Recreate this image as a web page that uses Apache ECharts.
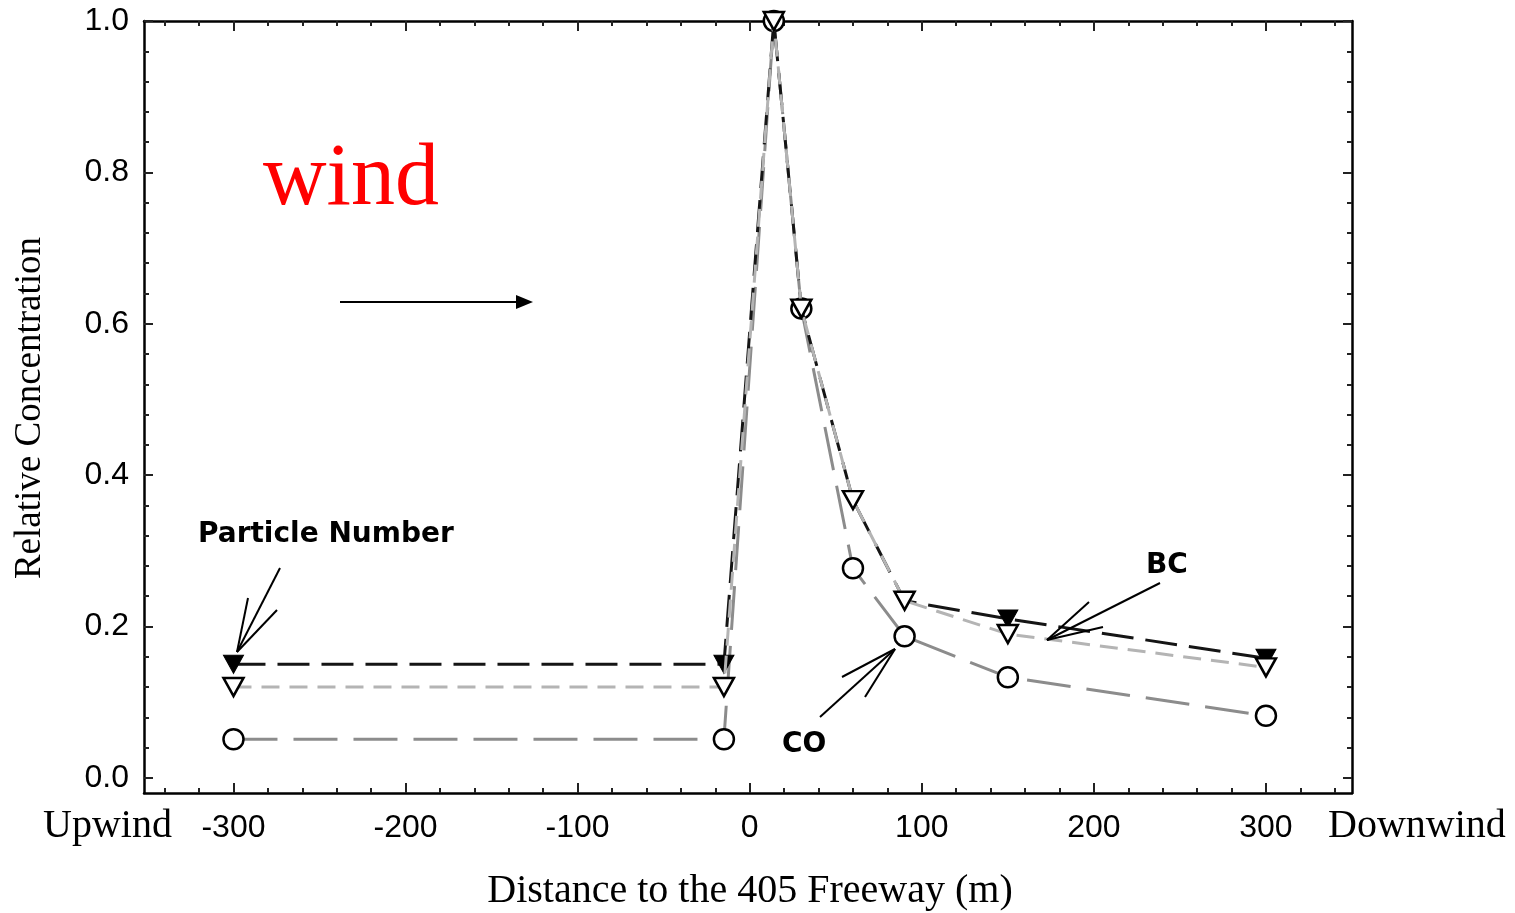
<!DOCTYPE html>
<html>
<head>
<meta charset="utf-8">
<script src="https://cdn.jsdelivr.net/npm/echarts@6/dist/echarts.min.js"></script>
<style>
html,body{margin:0;padding:0;background:#fff;}
#chart{width:1515px;height:913px;}
</style>
</head>
<body>
<div id="chart"></div>
<script>
// ---- data ----
const distances = [-300, -15, 14, 30, 60, 90, 150, 300];
const particleNumber = [0.150, 0.150, 1.0, 0.62, 0.367, 0.234, 0.210, 0.158];
const blackCarbon    = [0.120, 0.120, 1.0, 0.62, 0.367, 0.234, 0.190, 0.146];
const carbonMonoxide = [0.051, 0.051, 1.0, 0.62, 0.277, 0.187, 0.133, 0.082];
const xTickLabels = [-300, -200, -100, 0, 100, 200, 300];
const xMinorTicks = [-340,-320,-300,-280,-260,-240,-220,-200,-180,-160,-140,-120,-100,-80,-60,-40,-20,0,20,40,60,80,100,120,140,160,180,200,220,240,260,280,300,320,340];
const yTickLabels = [0.0, 0.2, 0.4, 0.6, 0.8, 1.0];
const yMinorTicks = [0,0.04,0.08,0.12,0.16,0.2,0.24,0.28,0.32,0.36,0.4,0.44,0.48,0.52,0.56,0.6,0.64,0.68,0.72,0.76,0.8,0.84,0.88,0.92,0.96,1.0];

const X_MIN = -352, X_MAX = 350, Y_MIN = -0.02, Y_MAX = 1.0;
const AX = {color:'#000', width:2.5};

function xAx(pos, major, showLine){
  return {
    type:'value', position:pos, min:X_MIN, max:X_MAX,
    axisLine:{show:showLine, onZero:false, lineStyle:AX},
    axisTick:{show:true, inside:true, length: major?10:5, customValues: major? xTickLabels : xMinorTicks, lineStyle:{color:'#222', width:2}},
    axisLabel:{show: major && pos==='bottom', customValues:xTickLabels, margin:19, fontSize:32, fontFamily:'Liberation Sans', color:'#000',
      formatter:v=>String(v)},
    splitLine:{show:false}
  };
}
function yAx(pos, major, showLine){
  return {
    type:'value', position:pos, min:Y_MIN, max:Y_MAX,
    axisLine:{show:showLine, onZero:false, lineStyle:AX},
    axisTick:{show:true, inside:true, length: major?9:5, customValues: major? yTickLabels : yMinorTicks, lineStyle:{color:'#222', width:2}},
    axisLabel:{show: major && pos==='left', customValues:yTickLabels, margin:15, fontSize:32, fontFamily:'Liberation Sans', color:'#000',
      formatter:v=>v.toFixed(1)},
    splitLine:{show:false}
  };
}

const chart = echarts.init(document.getElementById('chart'), null, {renderer:'canvas'});

const serif = '"Liberation Serif", "DejaVu Serif", serif';
const boldSans = 'bold 28px "DejaVu Sans"';

function txt(x, y, text, font, fill, align){
  return {type:'text', x:x, y:y, z:100,
    style:{text:text, font:font, fill:fill||'#000', align:align||'left', verticalAlign:'middle', textAlign:align||'left', textVerticalAlign:'middle'}};
}
function ln(x1,y1,x2,y2,w){
  return {type:'line', z:100, shape:{x1:x1,y1:y1,x2:x2,y2:y2}, style:{stroke:'#000', lineWidth:w||2}};
}

const graphics = [
  // wind annotation
  txt(263, 181, 'wind', '88px ' + serif, '#ff0000'),
  ln(340, 302, 518, 302, 2),
  {type:'polygon', z:100, shape:{points:[[533,302],[516,295],[516,309]]}, style:{fill:'#000'}},
  // Particle Number
  txt(198, 535, 'Particle Number', boldSans),
  ln(280, 568, 237, 652), ln(248, 598, 237, 652), ln(277, 610, 237, 652),
  // BC
  txt(1146, 566, 'BC', boldSans),
  ln(1160, 583, 1047, 640), ln(1089, 602, 1047, 640), ln(1103, 627, 1047, 640),
  // CO
  txt(782, 745, 'CO', boldSans),
  ln(820, 717, 895, 649), ln(842, 677, 895, 649), ln(865, 697, 895, 649),
  // axis titles
  txt(750, 891, 'Distance to the 405 Freeway (m)', '40px ' + serif, '#000', 'center'),
  txt(43, 826, 'Upwind', '40px ' + serif),
  txt(1328, 826, 'Downwind', '40px ' + serif),
  {type:'text', x:30, y:408, rotation:Math.PI/2, z:100,
    style:{text:'Relative Concentration', font:'37px ' + serif, fill:'#000', align:'center', verticalAlign:'middle', textAlign:'center', textVerticalAlign:'middle'}}
];

const pts = arr => distances.map((d,i)=>[d, arr[i]]);

chart.setOption({
  animation:false,
  backgroundColor:'#fff',
  grid:{left:144, right:163, top:21, bottom:120, containLabel:false},
  xAxis:[xAx('bottom', true, true), xAx('bottom', false, false), xAx('top', true, true), xAx('top', false, false)],
  yAxis:[yAx('left', true, true), yAx('left', false, false), yAx('right', true, true), yAx('right', false, false)],
  series:[
    {name:'CO', type:'line', data:pts(carbonMonoxide), z:2,
      symbol:'circle', symbolSize:20,
      itemStyle:{color:'#fff', borderColor:'#000', borderWidth:2.5},
      lineStyle:{color:'#8c8c8c', width:3, type:[44,16]}},
    {name:'Particle Number', type:'line', data:pts(particleNumber), z:3,
      symbol:'triangle', symbolRotate:180, symbolSize:[20,18],
      itemStyle:{color:'#000', borderColor:'#000', borderWidth:1},
      lineStyle:{color:'#151515', width:3, type:[32,12]}},
    {name:'BC', type:'line', data:pts(blackCarbon), z:4,
      symbol:'triangle', symbolRotate:180, symbolSize:[20,18],
      itemStyle:{color:'#fff', borderColor:'#000', borderWidth:2.5},
      lineStyle:{color:'#b4b4b4', width:3, type:[18,10]}}
  ],
  graphic: graphics
});
</script>
</body>
</html>
